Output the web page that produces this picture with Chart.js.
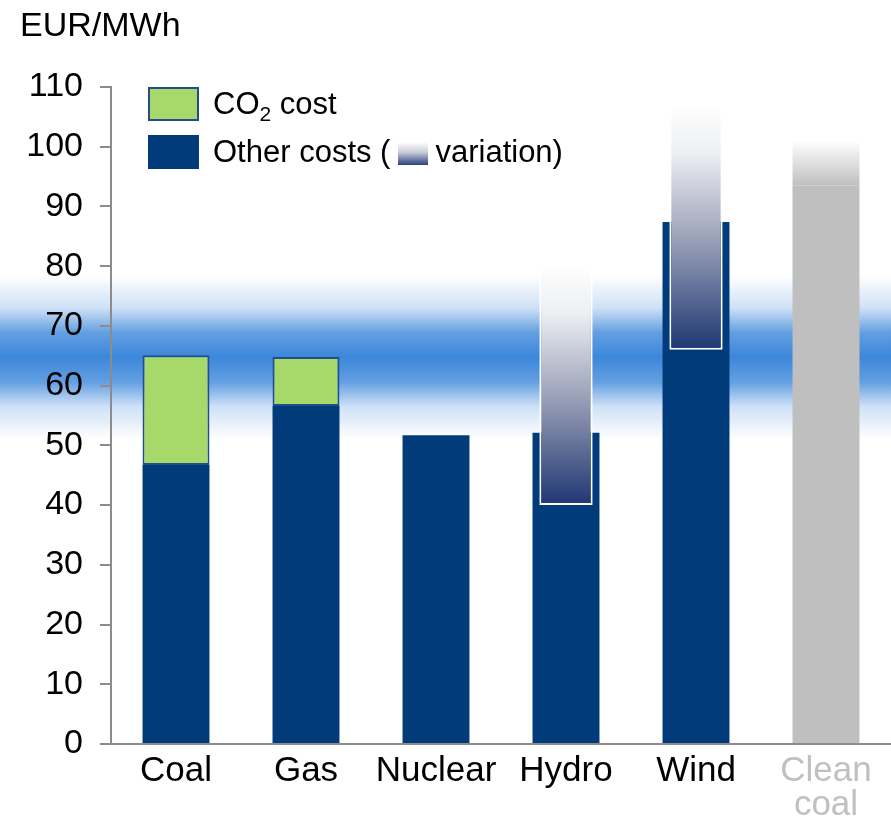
<!DOCTYPE html>
<html>
<head>
<meta charset="utf-8">
<script src="https://cdn.jsdelivr.net/npm/chart.js@4.4.1/dist/chart.umd.min.js"></script>
<style>
  html, body { margin: 0; padding: 0; background: #fff; overflow: hidden; }
  #wrap { position: relative; width: 891px; height: 823px; font-family: "Liberation Sans", Arial, sans-serif; }
  #wrap canvas { position: absolute; left: 0; top: 0; }
  .unit { position: absolute; left: 20px; top: 5px; font-size: 34px; color: #000; }
  .leg { position: absolute; left: 148px; font-size: 31px; color: #000; white-space: nowrap; }
  .sw { position: absolute; left: 0; width: 51px; height: 34px; box-sizing: border-box; }
  .leg span.t { position: absolute; left: 65px; top: 0; line-height: 34px; }
  .grad { display: inline-block; width: 30px; height: 23px; vertical-align: -3px; margin: 0 7px 0 8px;
          background: linear-gradient(to bottom, #ffffff 0%, #c9ccd8 45%, #2a3f7c 100%); }
</style>
</head>
<body>
<div id="wrap">
  <canvas id="chart" width="891" height="823"></canvas>
  <div class="unit">EUR/MWh</div>
  <div class="leg" style="top:87px">
    <div class="sw" style="background:#a6d96a;border:2px solid #1f4e8a"></div>
    <span class="t">CO<sub style="font-size:21px;vertical-align:-7px;line-height:0">2</sub> cost</span>
  </div>
  <div class="leg" style="top:135px">
    <div class="sw" style="background:#023b7a"></div>
    <span class="t">Other costs (<span class="grad"></span>variation)</span>
  </div>
</div>
<script>
(function(){
  "use strict";

  var categories = ["Coal", "Gas", "Nuclear", "Hydro", "Wind", ["Clean", "coal"]];
  var otherCosts = [46.7, 56.6, 51.7, 52.1, 87.4, null];
  var co2Cost    = [18.4, 8.2, null, null, null, null];
  var cleanCoal  = [null, null, null, null, null, 93.5];
  var cleanFade  = [null, null, null, null, null, 7.5];
  var varLow     = [null, null, null, 40, 66, null];
  var varHigh    = [null, null, null, 80, 107, null];
  var priceBand  = [51, 78.5];

  var NAVY = "#023b7a", GREEN = "#a6d96a", GREY = "#bfbfbf";

  var variation = varLow.map(function(v, i){ return v === null ? null : [v, varHigh[i]]; });

  function varFill(ctx){
    var chart = ctx.chart, y = chart.scales.y;
    if (!y || !chart.chartArea) return "#888";
    var i = ctx.dataIndex;
    if (varLow[i] === null) return "#888";
    var g = chart.ctx.createLinearGradient(0, y.getPixelForValue(varLow[i]), 0, y.getPixelForValue(varHigh[i]));
    g.addColorStop(0, "#1f3672");
    g.addColorStop(0.45, "#9aa0b8");
    g.addColorStop(0.8, "#eceef2");
    g.addColorStop(1, "#ffffff");
    return g;
  }

  function fadeFill(ctx){
    var chart = ctx.chart, y = chart.scales.y;
    if (!y || !chart.chartArea) return GREY;
    var base = cleanCoal[5], top = base + cleanFade[5];
    var g = chart.ctx.createLinearGradient(0, y.getPixelForValue(base), 0, y.getPixelForValue(top));
    g.addColorStop(0, GREY);
    g.addColorStop(1, "#ffffff");
    return g;
  }

  // blue price band behind everything, across the full width
  var bandPlugin = {
    id: "band",
    beforeDraw: function(chart){
      var y = chart.scales.y, c = chart.ctx;
      var top = y.getPixelForValue(priceBand[1]), bot = y.getPixelForValue(priceBand[0]);
      var g = c.createLinearGradient(0, top, 0, bot);
      g.addColorStop(0, "rgba(60,135,218,0)");
      g.addColorStop(0.2, "rgba(60,135,218,0.25)");
      g.addColorStop(0.35, "rgba(60,135,218,0.8)");
      g.addColorStop(0.5, "rgba(60,135,218,1)");
      g.addColorStop(0.65, "rgba(60,135,218,0.8)");
      g.addColorStop(0.8, "rgba(60,135,218,0.25)");
      g.addColorStop(1, "rgba(60,135,218,0)");
      c.save();
      c.fillStyle = g;
      c.fillRect(0, top, chart.width, bot - top);
      c.restore();
    }
  };

  var bar = { categoryPercentage: 1, barPercentage: 0.515, stack: "a", order: 1 };

  new Chart(document.getElementById("chart"), {
    type: "bar",
    data: {
      labels: categories,
      datasets: [
        Object.assign({ label: "Other costs", data: otherCosts, backgroundColor: NAVY }, bar),
        Object.assign({ label: "CO2 cost", data: co2Cost, backgroundColor: GREEN,
          borderColor: "#1f4e8a", borderWidth: 2, borderSkipped: false }, bar),
        Object.assign({ label: "Clean coal", data: cleanCoal, backgroundColor: GREY }, bar),
        Object.assign({ label: "Clean coal fade", data: cleanFade, backgroundColor: fadeFill }, bar),
        { label: "Variation", data: variation, stack: "v", grouped: false, order: 0,
          backgroundColor: varFill, borderColor: "#ffffff", borderWidth: 2, borderSkipped: "top",
          categoryPercentage: 1, barPercentage: 0.41 }
      ]
    },
    options: {
      responsive: false, animation: false,
      layout: { padding: { top: 87, right: 0, bottom: 0, left: 0 } },
      plugins: { legend: { display: false }, tooltip: { enabled: false } },
      scales: {
        x: {
          stacked: true,
          grid: { display: false, drawTicks: false },
          border: { color: "#8c8c8c", width: 2 },
          afterFit: function(s){ s.height = 79; },
          ticks: {
            padding: 11,
            font: { family: "'Liberation Sans', Arial, sans-serif", size: 35, lineHeight: 0.96 },
            color: function(c){ return c.index === 5 ? "#c0c0c0" : "#000000"; }
          }
        },
        y: {
          stacked: true, min: 0, max: 110,
          grid: { drawOnChartArea: false, tickLength: 11, color: "#8c8c8c", lineWidth: 2 },
          border: { color: "#8c8c8c", width: 2 },
          afterFit: function(s){ s.width = 111; },
          ticks: {
            stepSize: 10, padding: 17, color: "#000",
            font: { family: "'Liberation Sans', Arial, sans-serif", size: 34 }
          }
        }
      }
    },
    plugins: [bandPlugin]
  });
})();
</script>
</body>
</html>
